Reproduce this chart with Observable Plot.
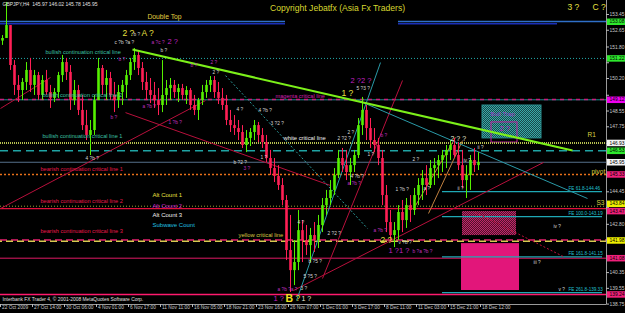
<!DOCTYPE html>
<html><head><meta charset="utf-8">
<script src="https://cdn.jsdelivr.net/npm/d3@7"></script>
<script src="https://cdn.jsdelivr.net/npm/@observablehq/plot@0.6"></script>
<style>
html,body{margin:0;padding:0;background:#000;}
#chart svg{display:block;}
</style></head><body><div id="chart"></div>
<script>
// ---------------- DATA ----------------
const symbolHeader = "GBPJPY,H4  145.97 146.02 145.78 145.95";
const firstOpen = 152.10;
const highs = [
152.38,154.06,152.89,151.11,150.35,150.20,151.01,151.22,150.61,150.51,
150.35,150.61,149.85,149.69,150.51,151.37,151.22,150.86,150.10,149.85,
149.34,148.58,148.07,149.34,151.22,150.86,150.61,150.51,150.00,149.85,
150.10,150.61,151.22,151.72,151.62,151.01,150.51,150.20,150.00,149.69,
151.11,150.10,150.20,150.10,149.90,149.90,149.79,149.69,149.34,149.19,
149.85,150.10,150.30,150.30,150.00,149.69,149.34,148.58,148.32,148.07,
147.81,147.56,147.66,148.07,147.97,147.66,147.31,146.55,146.14,145.78,
145.12,144.26,143.25,141.98,143.50,142.99,142.74,142.59,142.89,143.25,
144.11,144.52,145.02,145.63,146.55,146.65,146.55,146.14,146.55,148.17,
149.24,148.83,148.17,147.66,147.16,146.55,144.77,143.50,142.89,143.75,
144.01,144.11,144.26,144.62,145.12,145.53,145.78,146.04,146.14,146.29,
146.55,146.80,147.05,147.16,146.95,146.55,145.78,146.29,146.65,146.44];
const lows = [
151.88,152.23,150.61,149.34,148.98,149.08,149.59,149.49,149.34,149.08,
149.08,149.34,148.68,148.98,149.19,150.00,150.10,148.58,148.83,148.32,
147.56,147.05,146.29,147.31,149.08,149.34,149.08,149.08,148.47,148.68,
148.83,149.19,150.10,150.61,150.35,149.59,149.08,148.93,148.68,148.32,
148.47,148.83,149.08,149.19,148.98,149.08,148.88,148.58,148.32,148.07,
148.83,149.19,149.49,149.19,148.88,148.58,147.81,147.46,147.31,147.05,
146.65,146.44,146.75,147.05,146.95,146.65,145.94,145.28,144.92,144.52,
143.75,140.96,139.34,139.69,140.45,140.86,141.22,140.86,141.37,141.57,
142.38,143.25,143.75,144.26,145.12,145.43,145.02,144.77,145.43,146.14,
147.31,147.05,146.65,146.44,145.78,143.75,142.38,141.88,141.62,141.98,
142.38,142.59,142.89,143.25,143.75,144.01,144.26,144.62,144.77,145.12,
145.43,145.63,146.04,146.14,145.53,144.62,144.11,144.52,145.43,145.53];
const closes = [
152.23,152.89,150.86,149.85,149.59,150.00,150.61,149.85,150.35,149.34,
150.10,149.49,149.19,149.49,150.35,151.01,150.51,149.08,149.59,148.58,
147.81,147.31,147.56,149.08,150.71,149.85,150.20,149.34,149.08,149.49,
149.85,150.35,151.01,151.37,150.71,150.00,149.59,149.34,149.08,148.83,
149.34,149.69,149.85,149.49,149.69,149.34,149.59,148.83,148.58,149.08,
149.49,149.85,150.10,149.49,149.19,148.83,148.07,147.81,147.66,147.46,
146.80,147.16,147.46,147.81,147.31,146.95,146.14,145.63,145.23,144.77,
144.01,141.47,140.45,140.86,142.48,141.98,141.72,142.23,141.98,142.74,
143.75,144.11,144.52,145.28,146.14,145.78,145.43,145.78,146.29,147.81,
148.58,147.66,147.05,146.80,146.14,144.26,142.89,142.23,142.48,143.40,
142.99,143.75,143.50,144.26,144.77,145.12,144.77,145.63,145.78,146.04,
146.29,146.55,146.80,146.29,145.78,145.02,145.28,146.04,145.78,145.94];

const timeTickBars = [0,16,32,48,64,80,96,112,128,144,160,176,192,208,224,240];
const timeLabels = ["22 Oct 2009","27 Oct 14:00","30 Oct 06:00","4 Nov 01:00","6 Nov 17:00","11 Nov 11:00","16 Nov 05:00","18 Nov 21:00","23 Nov 16:00","26 Nov 07:00","1 Dec 01:00","3 Dec 17:00","8 Dec 11:00","11 Dec 03:00","15 Dec 21:00","18 Dec 12:00"];
const priceTicks = [153.45,152.65,151.80,151.00,150.20,149.35,148.55,147.75,146.90,146.10,145.30,144.45,143.65,142.80,142.00,141.20,140.35,139.55,138.75];

const levelPrices = [151.22,149.12,149.14,146.93,146.53,145.95,145.33,143.72,143.60,142.00,141.94,141.08,139.24];
const doubleTopPrices = [153.09,152.98];
const doubleTopSegments = [[0,142.5],[199,303],[0,142.5],[199,278.5]];
const tagPrices = [153.08,151.22,149.12,146.93,146.53,145.95,145.33,143.84,143.47,141.98,141.08,139.24];

const feLevels = [144.46,143.19,141.15,139.33];
const feLabels = ["FE 61.8-144.46","FE 100.0-143.19","FE 161.8-141.15","FE 261.8-139.33"];
const feRange = [221,301];
const feLabelBar = 284;

// trendlines: [bar1, price1, bar2, price2]
const greenTrend = [[66,151.67,286,146.55]];
const tealTrends = [[179,149.08,293.5,144.11],[148,138.93,190,151.01]];
const tealDotted = [[112.5,150.35,183.5,142.59]];
const redTrends = [[146.5,139.44,271.5,145.94],[161,140.05,201,150.10],[0,143.60,102.5,149.08],[62.5,148.47,165,144.77],[0,148.68,25,150.25]];
const redDotted = [[237.5,143.40,281.5,141.16]];
const orangeTrends = [[207.5,143.75,227.5,147.21],[214,143.35,231,147.05]];

// zones: [bar1, bar2, priceTop, priceBottom]
const tealZone = [[241,270.5,148.83,147.16]];
const trapBox = [[245.5,258.5,147.97,146.95]];
const pinkHatchZone = [[231,258,143.45,142.23]];
const pinkZone = [[230.5,259.5,141.82,139.44]];

// text annotations: [text, bar, price]
const titleText = [["Copyright Jebatfx (Asia Fx Traders)",168.5,153.75]];
const doubleTopText = [["Double Top",82,153.35]];
const tealLineTexts = [["bullish continuation critical line",22.5,151.52],["bullish continuation critical line 2",21,149.34],["bullish continuation critical line 1",21,147.26]];
const redLineTexts = [["bearish continuation critical line 1",20,145.58],["bearish continuation critical line 2",20,143.96],["bearish continuation critical line 3",20,142.43]];
const magentaLineText = [["magenta critical line",137.5,149.29]];
const whiteLineText = [["white critical line",141.5,147.15]];
const yellowLineText = [["yellow critical line",119,142.23]];
const countLegend = [["Alt Count 1",76,144.26],["Alt Count 2",76,143.75],["Alt Count 3",76,143.25],["Subwave Count",76,142.74]];
const pivotTexts = [["R1",293.5,147.36],["pivot",295.5,145.48],["S3",298,143.91]];
const footerText = [["Interbank FX Trader 4, © 2001-2008 MetaQuotes Software Corp.",1,138.98]];
const bigYellowWaves = [["2 ?",61,152.48],["A ?",70.5,152.48],["2 ?",190,141.98],["1 ?",170.5,149.44],["3 ?",283.5,153.82],["C ?",296,153.80],["?",147.5,139.03]];
const bLabel = [["B",142.5,139.03]];
const magentaWaves = [["2 ?",83.5,152.08],["1 ?",136.5,139.03],["1 ?1 ?",194,141.47],["2 ?2 ?",175,150.10],["2 ?",249.5,147.66]];
const whiteWaves = [["1 ?",150.5,139.03],["2 ? ?",225,147.16]];
const tinyWhite = [["b ?",66.5,152.43],["c ?b ?a ?",57,152.03],["4 ?b ?",42.5,146.14],["b ?",80,151.62],["4 ?",118,148.61],["4 ?b ?",129,148.58],["3 ?2 ?",135,147.92],["1 ?",130,146.19],["b ?2 ?",116.5,145.94],["2 ?",173.5,147.46],["2 ?2 ?",168.5,147.15],["1 ?",183.5,146.34],["4 ?b ?",175,145.23],["1 ?b ?",197.5,144.57],["4 ?",148.5,142.89],["2 ?2 ?",163.5,142.33],["b ?5 ?",154,140.91],["5 ?5 ?",151.5,140.15],["3 ?",150,139.54],["v ?b ?",199,141.88],["5 ?3 ?",178,149.72],["2 ?",206,146.09],["iv ?",231.5,146.04],["ii ?",238.5,146.71],["ii ?",228.5,144.62],["a ?",211.5,144.62],["iv ?",276.5,142.69],["iii ?",266.5,140.86],["v ?",279,139.49],["2 ?",106,150.5]];
const tinyMagenta = [["a ?c ?",75.5,152.03],["b ?",59,151.16],["b ?",95,150.86],["a ?b ?",71,148.78],["b ?",55,148.22],["1 ?b ?",84,147.97],["3 ?",121.5,145.63],["b ?",190,147.31],["a ?b ?",173.5,144.87],["a ?b ?",186.5,142.48],["a ?b ?a ?",138.5,139.49],["2 ?",105,151.01],["b ?a ?b ?",206,141.42]];
const trapTexts = [["Bull Trap",245,148.42]];

// ---------------- DRAWING ----------------
const X_MAX = 303;
const Y_DOMAIN = [138.73, 154.16];
const UP = "#55f000", DOWN = "#ff1f55";

const candles = closes.map((c, i) => ({
  bar: 2 * i + 1,
  open: i === 0 ? firstOpen : closes[i - 1],
  high: highs[i], low: lows[i], close: c
}));

const levelStyles = [
  {stroke:"#22aaaa", dash:"1,2", w:1},
  {stroke:"#1e8c8c", dash:null, w:1},
  {stroke:"#c8207e", dash:"4,4", w:1.5},
  {stroke:"#b8c050", dash:"1,1", w:2},
  {stroke:"#1fa3a3", dash:"8,5", w:1.5},
  {stroke:"#56708a", dash:null, w:1},
  {stroke:"#e8701a", dash:"2,2", w:1.5},
  {stroke:"#a0a030", dash:"1,2", w:1},
  {stroke:"#e0103c", dash:null, w:1.2},
  {stroke:"#e8206e", dash:"7,4", w:1.5},
  {stroke:"#d8c850", dash:"7,4", w:1.5},
  {stroke:"#e01a64", dash:null, w:1},
  {stroke:"#ff1a6e", dash:null, w:1.5}
];
const tagKinds = ["#2ee82e","#2ee82e","#f000f0","#f4f4f4","#2ee82e","#f4f4f4","#f0207a","#f0f000","#f0207a","#f0f000","#f0207a","#f0207a"];
const visibleTicks = priceTicks.filter(p => tagPrices.every(t => Math.abs(t - p) > 0.3));

const seg = (arr, opts) => Plot.link(arr, {x1: d=>d[0], y1: d=>d[1], x2: d=>d[2], y2: d=>d[3], ...opts});
const txt = (arr, opts) => Plot.text(arr, {x: d=>d[1], y: d=>d[2], text: d=>d[0], textAnchor: "start", ...opts});

const marks = [];
marks.push(Plot.rect(tealZone, {x1:d=>d[0], x2:d=>d[1], y1:d=>d[2], y2:d=>d[3], fill:"url(#tealDither)", stroke:"#2a8f8f"}));
marks.push(Plot.rect(pinkHatchZone, {x1:d=>d[0], x2:d=>d[1], y1:d=>d[2], y2:d=>d[3], fill:"url(#pinkDither)"}));
marks.push(Plot.rect(pinkZone, {x1:d=>d[0], x2:d=>d[1], y1:d=>d[2], y2:d=>d[3], fill:"#e2167a"}));
marks.push(Plot.rect(trapBox, {x1:d=>d[0], x2:d=>d[1], y1:d=>d[2], y2:d=>d[3], fill:"none", stroke:"#c020a0", strokeWidth:1}));

levelPrices.forEach((p, i) => {
  const s = levelStyles[i];
  marks.push(Plot.ruleY([p], {stroke: s.stroke, strokeWidth: s.w, strokeDasharray: s.dash || undefined, strokeDashoffset: i === 10 ? 5 : 0}));
});
doubleTopSegments.forEach((sgm, i) => {
  marks.push(Plot.ruleY([doubleTopPrices[i < 2 ? 0 : 1]], {x1: sgm[0], x2: sgm[1], stroke: i < 2 ? "#2f6fc8" : "#1a2fb8", strokeWidth: 1.5}));
});
marks.push(Plot.ruleY(feLevels, {x1: feRange[0], x2: feRange[1], stroke: "#1fa8b4", strokeWidth: 1.3}));

marks.push(seg(redTrends, {stroke:"#b8103c", strokeWidth:1}));
marks.push(seg(redDotted, {stroke:"#c0103c", strokeWidth:1, strokeDasharray:"2,2"}));
marks.push(seg(orangeTrends, {stroke:"#c08040", strokeWidth:1}));
marks.push(seg(tealDotted, {stroke:"#2a9a9a", strokeWidth:1, strokeDasharray:"2,2"}));
marks.push(seg(tealTrends, {stroke:"#2a9aa8", strokeWidth:1}));

marks.push(Plot.ruleX(candles, {x:"bar", y1:"low", y2:"high", stroke: d => d.close >= d.open ? UP : DOWN, strokeWidth: 1}));
marks.push(Plot.ruleX(candles, {x:"bar", y1:"open", y2:"close", stroke: d => d.close >= d.open ? UP : DOWN, strokeWidth: 2.6}));

marks.push(seg(greenTrend, {stroke:"#7cf01a", strokeWidth:2}));

marks.push(Plot.ruleY([Y_DOMAIN[0]], {stroke:"#9a9a9a", strokeWidth:1}));
marks.push(Plot.ruleX([X_MAX], {stroke:"#9a9a9a", strokeWidth:1}));
marks.push(Plot.ruleY(priceTicks, {x1: X_MAX, x2: X_MAX + 1.5, stroke:"#bbbbbb"}));
marks.push(Plot.text(visibleTicks, {y: d => d, frameAnchor: "right", dx: 3, textAnchor: "start", text: d => d.toFixed(2), fill: "#c8c8c8", fontSize: 4.9}));
marks.push(Plot.ruleX(timeTickBars, {x: d => d, y1: Y_DOMAIN[0], y2: Y_DOMAIN[0] - 0.15, stroke:"#bbbbbb"}));
marks.push(Plot.text(timeTickBars, {x: d => d, frameAnchor: "bottom", dy: 4.5, dx: 1.5, textAnchor: "start", text: (d, i) => timeLabels[i], fill: "#c8c8c8", fontSize: 4.8}));

marks.push(Plot.ruleY(tagPrices, {y: d => d, x1: X_MAX + 0.5, x2: X_MAX + 9.5, stroke: (d, i) => tagKinds[i], strokeWidth: 6.5}));
marks.push(Plot.text(tagPrices, {y: d => d, frameAnchor: "right", dx: 3, textAnchor: "start", text: d => d.toFixed(2), fill: "#000", fontSize: 4.9}));

marks.push(txt([[symbolHeader, 1, 153.96]], {fill:"#e0e0e0", fontSize:5}));
marks.push(txt(titleText, {textAnchor:"middle", fill:"#d8d830", fontSize:8.6}));
marks.push(txt(doubleTopText, {textAnchor:"middle", fill:"#e0d040", fontSize:6.8}));
marks.push(txt(tealLineTexts, {fill:"#3cc0a4", fontSize:5.6}));
marks.push(txt(redLineTexts, {fill:"#e8184c", fontSize:5.6}));
marks.push(txt(magentaLineText, {fill:"#d020b0", fontSize:5.6}));
marks.push(txt(whiteLineText, {fill:"#f0f0f0", fontSize:5.8}));
marks.push(txt(yellowLineText, {fill:"#d8c840", fontSize:5.8}));
marks.push(txt(countLegend.slice(0,1), {fill:"#e8e040", fontSize:6}));
marks.push(txt(countLegend.slice(1,2), {fill:"#c020d0", fontSize:6}));
marks.push(txt(countLegend.slice(2,3), {fill:"#f0f0f0", fontSize:6}));
marks.push(txt(countLegend.slice(3,4), {fill:"#20c0e0", fontSize:6}));
marks.push(txt(pivotTexts, {fill:"#d8d040", fontSize:6.5}));
marks.push(Plot.text(feLabels, {x: feLabelBar, y: (d, i) => feLevels[i], text: d => d, textAnchor: "start", dy: -3.5, fill: "#20c0d0", fontSize: 4.6}));
marks.push(txt(footerText, {fill:"#e0e0e0", fontSize:4.9}));
marks.push(txt(bigYellowWaves, {fill:"#e8e040", fontSize:8.5}));
marks.push(txt(bLabel, {fill:"#f0e020", fontSize:10.5, fontWeight:"bold"}));
marks.push(txt(magentaWaves, {fill:"#c020c0", fontSize:7.5}));
marks.push(txt(whiteWaves, {fill:"#e8e8d8", fontSize:7}));
marks.push(txt(tinyWhite, {fill:"#d8d8d8", fontSize:4.8}));
marks.push(txt(tinyMagenta, {fill:"#c030c0", fontSize:4.8}));
marks.push(txt(trapTexts, {fill:"#9a40c8", fontSize:6.2}));

const chart = Plot.plot({
  width: 625, height: 313,
  marginLeft: 0, marginRight: 19, marginTop: 0, marginBottom: 9,
  style: {background: "#000", color: "#c8c8c8", fontFamily: "'Liberation Sans', Arial, sans-serif"},
  x: {domain: [0, X_MAX], axis: null},
  y: {domain: Y_DOMAIN, axis: null},
  color: {type: "identity"},
  marks
});

const ns = "http://www.w3.org/2000/svg";
const defs = document.createElementNS(ns, "defs");
defs.innerHTML =
  '<pattern id="tealDither" width="2" height="2" patternUnits="userSpaceOnUse">' +
  '<rect width="2" height="2" fill="#174848"/><rect width="1" height="1" fill="#3aa8a8"/><rect x="1" y="1" width="1" height="1" fill="#3aa8a8"/></pattern>' +
  '<pattern id="pinkDither" width="2" height="2" patternUnits="userSpaceOnUse">' +
  '<rect width="2" height="2" fill="#50102c"/><rect width="1" height="1" fill="#c02868"/><rect x="1" y="1" width="1" height="1" fill="#c02868"/></pattern>';
chart.insertBefore(defs, chart.firstChild);
document.getElementById("chart").appendChild(chart);
</script></body></html>
